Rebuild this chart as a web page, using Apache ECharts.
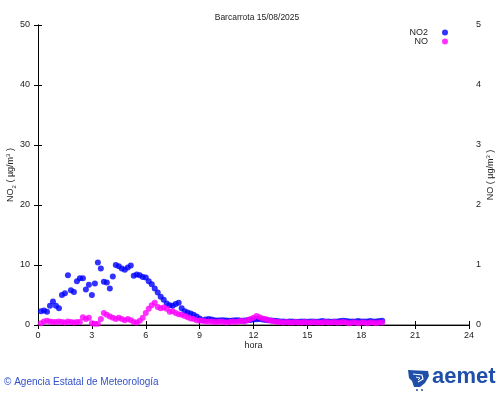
<!DOCTYPE html>
<html>
<head>
<meta charset="utf-8">
<script src="https://cdn.jsdelivr.net/npm/echarts@6/dist/echarts.min.js"></script>
<style>
html,body{margin:0;padding:0;background:#fff;}
#chart{width:500px;height:395px;}
</style>
</head>
<body>
<div id="chart"></div>
<script>
// Title / labels
const titleText = 'Barcarrota 15/08/2025';
const seriesNames = ['NO2', 'NO'];
const xTicks = [0, 3, 6, 9, 12, 15, 18, 21, 24];
const leftTicks = [0, 10, 20, 30, 40, 50];
const rightTicks = [0, 1, 2, 3, 4, 5];
// 10-minute samples starting at 00:10
const firstSampleHour = 1 / 6;
const sampleStepHours = 1 / 6;

// NO2 (µg/m3, left axis)
const no2 = [
  2.3,2.4,2.2,3.2,3.9,3.2,2.8,5.0,5.3,8.3,
  5.8,5.5,7.3,7.8,7.8,5.9,6.7,5.0,6.9,10.4,
  9.4,7.2,7.1,6.1,8.1,10.0,9.8,9.4,9.2,9.6,
  9.9,8.2,8.4,8.3,8.0,7.9,7.3,6.8,6.1,5.4,
  4.7,4.2,3.6,3.3,3.2,3.5,3.7,2.8,2.3,2.1,
  1.9,1.7,1.4,1.1,0.8,0.9,1.0,
  0.9,0.8,0.75,0.8,0.8,0.75,0.7,0.75,0.8,0.8,0.7,0.75,0.8,0.85,
  0.9,0.95,1.0,0.9,0.85,0.8,0.75,0.7,
  0.65,0.6,0.6,0.55,0.6,0.6,0.55,0.55,0.6,0.6,0.55,0.6,0.6,0.55,0.6,0.65,0.6,0.6,
  0.55,0.6,0.6,0.65,0.7,0.65,0.6,0.6,0.6,0.65,0.6,0.6,0.6,0.65,0.6,0.6,0.65,0.7
];
// NO (µg/m3, right axis)
const no = [
  0.03,0.06,0.07,0.06,0.05,0.05,0.06,0.05,0.04,0.06,
  0.05,0.04,0.05,0.05,0.13,0.10,0.12,0.03,0.02,0.02,
  0.10,0.20,0.17,0.14,0.12,0.10,0.12,0.10,0.08,0.10,
  0.08,0.05,0.04,0.07,0.12,0.20,0.27,0.33,0.37,0.30,
  0.28,0.29,0.27,0.22,0.23,0.20,0.18,0.17,0.15,0.13,
  0.11,0.10,0.08,0.07,0.07,0.06,0.06,
  0.06,0.05,0.05,0.06,0.05,0.04,0.05,0.06,0.05,0.06,0.07,0.06,0.08,0.10,
  0.12,0.15,0.13,0.11,0.10,0.08,0.07,0.06,
  0.05,0.05,0.04,0.05,0.04,0.04,0.05,0.04,0.04,0.05,0.04,0.04,0.05,0.04,0.04,0.04,0.05,0.04,
  0.04,0.05,0.04,0.04,0.05,0.04,0.03,0.04,0.04,0.03,0.04,0.04,0.03,0.04,0.04,0.03,0.04,0.04
];

const hours = no2.map((_, i) => firstSampleHour + i * sampleStepHours);
const pairs = (vals) => vals.map((v, i) => [hours[i], v]);

const FONT = 'Liberation Sans, Arial, sans-serif';
const chart = echarts.init(document.getElementById('chart'), null, {renderer: 'canvas'});

const axisTxt = {color: '#222', fontSize: 9, fontFamily: FONT};
const tickStyle = {show: true, inside: true, length: 4, lineStyle: {color: '#000', width: 1}};
const richName = {
  t: {fontSize: 9, color: '#222', fontFamily: FONT, lineHeight: 12},
  s: {fontSize: 6, color: '#222', fontFamily: FONT, lineHeight: 8, padding: [6, 0, 0, 0]},
  p: {fontSize: 6, color: '#222', fontFamily: FONT, lineHeight: 8, padding: [0, 0, 6, 0]}
};

chart.setOption({
  backgroundColor: '#fff',
  animation: false,
  title: {
    text: titleText, left: 252, top: 8, textAlign: 'center',
    textStyle: {fontSize: 8.5, fontWeight: 'normal', color: '#222', fontFamily: FONT}
  },
  legend: {
    data: seriesNames, orient: 'vertical', right: 52, top: 28, align: 'right', padding: 0,
    icon: 'circle', itemWidth: 6, itemHeight: 6, itemGap: 0,
    textStyle: {fontSize: 9, lineHeight: 9, color: '#222', fontFamily: FONT, padding: [0, 9, 0, 0]}
  },
  grid: {left: 38, right: 31, top: 25, bottom: 70, containLabel: false, outerBoundsMode: 'none'},
  xAxis: [{
    type: 'value', min: xTicks[0], max: xTicks[xTicks.length - 1], interval: 3,
    name: 'hora', nameLocation: 'middle', nameGap: 16, nameMoveOverlap: false,
    nameTextStyle: {fontSize: 9, color: '#222', fontFamily: FONT},
    axisLine: {show: true, onZero: false, lineStyle: {color: '#999', width: 2}},
    axisTick: tickStyle,
    axisLabel: Object.assign({margin: 6}, axisTxt),
    splitLine: {show: false}
  }, {
    type: 'value', position: 'top', min: xTicks[0], max: xTicks[xTicks.length - 1], interval: 3,
    axisLine: {show: true, lineStyle: {color: '#000', width: 1}},
    axisTick: tickStyle, axisLabel: {show: false}, splitLine: {show: false}
  }],
  yAxis: [{
    type: 'value', min: leftTicks[0], max: leftTicks[leftTicks.length - 1], interval: 10,
    name: '{t|NO}{s|2}{t| ( µg/m}{p|3}{t| )}', nameLocation: 'middle', nameGap: 21, nameRotate: 90,
    nameMoveOverlap: false,
    nameTextStyle: {fontFamily: FONT, rich: richName},
    axisLine: {show: true, lineStyle: {color: '#000', width: 1}},
    axisTick: tickStyle,
    axisLabel: Object.assign({margin: 8}, axisTxt),
    splitLine: {show: false}
  }, {
    type: 'value', position: 'right', min: rightTicks[0], max: rightTicks[rightTicks.length - 1], interval: 1,
    name: '{t|NO ( µg/m}{p|3}{t| )}', nameLocation: 'middle', nameGap: 16, nameRotate: 90,
    nameMoveOverlap: false,
    nameTextStyle: {fontFamily: FONT, rich: richName},
    axisLine: {show: true, lineStyle: {color: '#000', width: 1}},
    axisTick: tickStyle,
    axisLabel: Object.assign({margin: 7}, axisTxt),
    splitLine: {show: false}
  }],
  series: [{
    name: seriesNames[0], type: 'scatter', xAxisIndex: 0, yAxisIndex: 0,
    symbol: 'circle', symbolSize: 6, itemStyle: {color: '#0000ff'},
    data: pairs(no2)
  }, {
    name: seriesNames[1], type: 'scatter', xAxisIndex: 0, yAxisIndex: 1,
    symbol: 'circle', symbolSize: 6, itemStyle: {color: '#ff00ff'},
    data: pairs(no)
  }],
  graphic: [
    {type: 'text', left: 4, top: 377,
     style: {text: '© Agencia Estatal de Meteorología', fill: '#3050c8', fontSize: 10, fontFamily: FONT}},
    {type: 'group', left: 408, top: 370, children: [
      {type: 'polygon', shape: {points: [[0,0],[20,1],[21,6],[17,13],[12,17],[6,17],[4,11],[1,8]]},
       style: {fill: '#1f4fa8'}},
      {type: 'polyline', shape: {points: [[5,4],[14,5],[15,9],[10,12]]}, style: {stroke: '#fff', lineWidth: 1.2, fill: null}},
      {type: 'polyline', shape: {points: [[8,7],[12,8],[10,10]]}, style: {stroke: '#fff', lineWidth: 1, fill: null}},
      {type: 'circle', shape: {cx: 9, cy: 20, r: 1}, style: {fill: '#1f4fa8'}},
      {type: 'circle', shape: {cx: 14, cy: 20, r: 1}, style: {fill: '#1f4fa8'}}
    ]},
    {type: 'text', left: 432, top: 366,
     style: {text: 'aemet', fill: '#1f4fa8', fontSize: 22, fontWeight: 'bold', fontFamily: FONT}}
  ]
});
</script>
</body>
</html>
